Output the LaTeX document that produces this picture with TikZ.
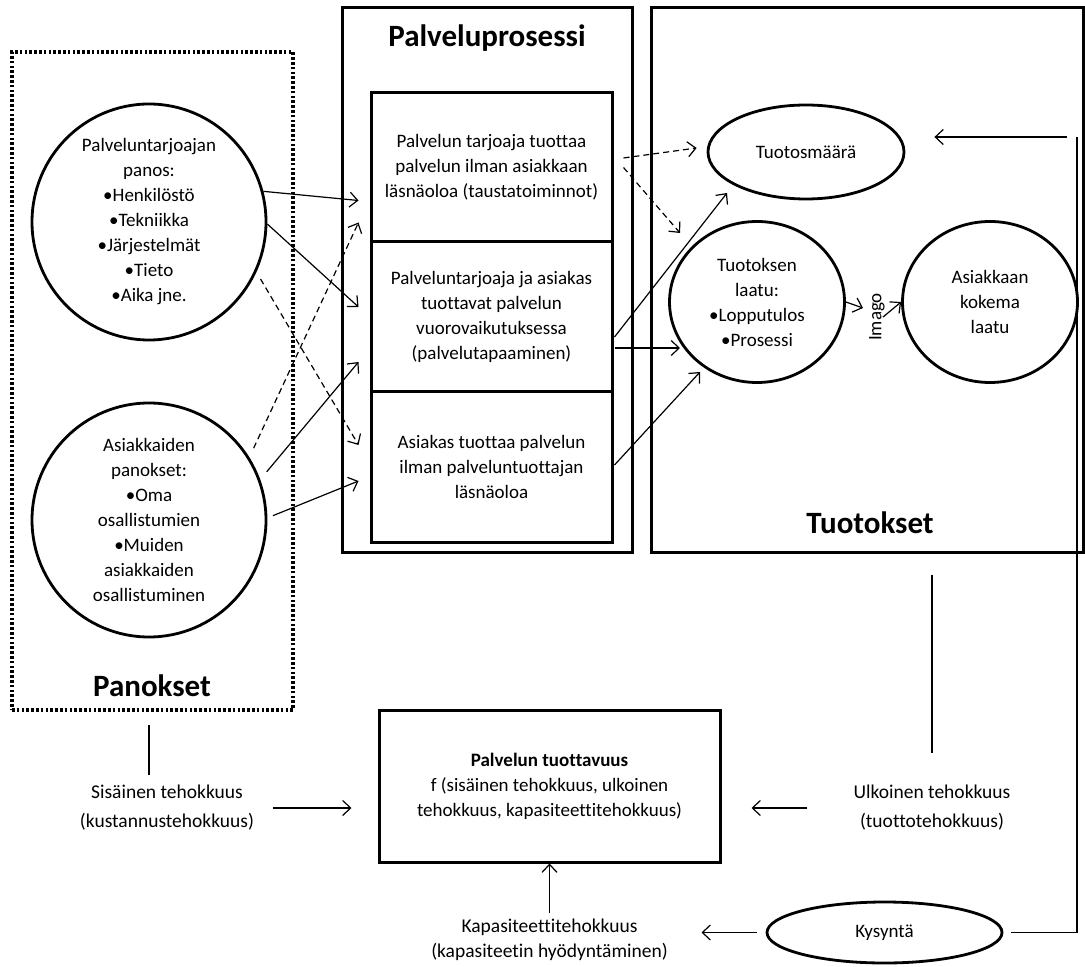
\documentclass[tikz,border=0pt]{standalone}
\usepackage{fontspec}
\setmainfont{Carlito}[Ligatures={NoCommon}]
\usepackage{tikz}
\usetikzlibrary{arrows.meta,shapes.geometric}
\tikzset{
kuvabox/.style={draw, line width=1.5pt, inner sep=0pt, align=center},
kuvapanos/.style={draw, line width=1.9pt, dash pattern=on 1.3pt off 1.1pt, inner sep=0pt},
kuvaellipse/.style={draw, ellipse, line width=1.4pt, inner sep=0pt, align=center},
kuvaotsikko/.style={font=\fontsize{15.5}{18}\selectfont\bfseries, inner sep=1pt},
kuvateksti/.style={align=center, font=\fontsize{9.75}{14.5}\selectfont, inner sep=2pt},
kuvaarrow/.style={-{Straight Barb[length=4pt,width=7.5pt]}, line width=0.6pt},
kuvadash/.style={kuvaarrow, dash pattern=on 3pt off 2pt},
kuvaline/.style={line width=0.6pt}
}

\begin{document}
\begin{tikzpicture}[x=0.5pt, y=-0.5pt, font=\fontsize{9.5}{12.5}\selectfont]
  \useasboundingbox (0,0) rectangle (1085,967);
  \node[kuvapanos, minimum width=140.5pt, minimum height=329pt] (panokset) at (152.5,381) {};
  \node[kuvaotsikko] (panoksetotsikko) at (152,686) {Panokset};
  \node[kuvaellipse, minimum width=117pt, minimum height=118pt] (tarjoajapanos) at (149,222) {Palveluntarjoajan\\panos:\\•Henkilöstö\\•Tekniikka\\•Järjestelmät\\•Tieto\\•Aika jne.};
  \node[kuvaellipse, minimum width=117pt, minimum height=117pt] (asiakaspanos) at (149,520) {Asiakkaiden\\panokset:\\•Oma\\osallistumien\\•Muiden\\asiakkaiden\\osallistuminen};
  \node[kuvabox, minimum width=145pt, minimum height=272pt] (prosessi) at (487,280) {};
  \node[kuvaotsikko] (prosessiotsikko) at (487,38) {Palveluprosessi};
  \node[kuvabox, minimum width=120.5pt, minimum height=74.5pt] (taustatoiminnot) at (491.5,167.5) {Palvelun tarjoaja tuottaa\\palvelun ilman asiakkaan\\läsnäoloa (taustatoiminnot)};
  \node[kuvabox, minimum width=120.5pt, minimum height=75pt] (palvelutapaaminen) at (491.5,317) {Palveluntarjoaja ja asiakas\\tuottavat palvelun\\vuorovaikutuksessa\\(palvelutapaaminen)};
  \node[kuvabox, minimum width=120.5pt, minimum height=75pt] (itsepalvelu) at (491.5,467) {Asiakas tuottaa palvelun\\ilman palveluntuottajan\\läsnäoloa};
  \node[kuvabox, minimum width=216pt, minimum height=272pt] (tuotokset) at (867,280) {};
  \node[kuvaotsikko] (tuotoksetotsikko) at (870,523) {Tuotokset};
  \node[kuvaellipse, minimum width=98pt, minimum height=47pt] (tuotosmaara) at (806,152) {Tuotosmäärä};
  \node[kuvaellipse, minimum width=87.5pt, minimum height=80.5pt] (laatu) at (757,302) {Tuotoksen\\laatu:\\•Lopputulos\\•Prosessi};
  \node[kuvaellipse, minimum width=87.5pt, minimum height=80.5pt] (kokema) at (990,302) {Asiakkaan\\kokema\\laatu};
  \node[rotate=90, inner sep=1pt] (imago) at (877,317) {Imago};
  \node[kuvabox, minimum width=170.5pt, minimum height=76pt] (tuottavuus) at (549.5,786) {\textbf{Palvelun tuottavuus}\\f (sisäinen tehokkuus, ulkoinen\\tehokkuus, kapasiteettitehokkuus)};
  \node[kuvateksti] (sisainen) at (167,808) {Sisäinen tehokkuus\\(kustannustehokkuus)};
  \node[kuvateksti] (ulkoinen) at (932,808) {Ulkoinen tehokkuus\\(tuottotehokkuus)};
  \node[kuvateksti, font=\fontsize{9.75}{12.5}\selectfont] (kapasiteetti) at (549.5,940) {Kapasiteettitehokkuus\\(kapasiteetin hyödyntäminen)};
  \node[kuvaellipse, minimum width=117.5pt, minimum height=30.5pt] (kysynta) at (884.5,932.5) {Kysyntä};
  \coordinate (palaute) at (1077,137);
  \draw[kuvaarrow] (tarjoajapanos.15) -- ([shift={(-11,33)}]taustatoiminnot.west);
  \draw[kuvaarrow] (tarjoajapanos.-1) -- ([shift={(-11,-10)}]palvelutapaaminen.west);
  \draw[kuvadash, shorten <=4pt] (tarjoajapanos.-25) -- ([shift={(-11,-22)}]itsepalvelu.west);
  \draw[kuvadash, shorten <=5pt] (asiakaspanos.32) -- ([shift={(-11,55)}]taustatoiminnot.west);
  \draw[kuvaarrow, shorten <=5pt] (asiakaspanos.20) -- ([shift={(-11,45)}]palvelutapaaminen.west);
  \draw[kuvaarrow, shorten <=3pt] (asiakaspanos.1) -- ([shift={(-11,14)}]itsepalvelu.west);
  \draw[kuvadash] ([shift={(10,-9.5)}]taustatoiminnot.east) -- ([shift={(-10,-4)}]tuotosmaara.west);
  \draw[kuvadash] ([shift={(10,0)}]taustatoiminnot.east) -- ([shift={(-77,-69)}]laatu.center);
  \draw[kuvaarrow] ([shift={(1,20)}]palvelutapaaminen.east) -- ([shift={(-79,41)}]tuotosmaara.center);
  \draw[kuvaarrow] ([shift={(1,31)}]palvelutapaaminen.east) -- ([shift={(-77,46)}]laatu.center);
  \draw[kuvaarrow] ([shift={(1,-2)}]itsepalvelu.east) -- ([shift={(-57,70)}]laatu.center);
  \draw[kuvaarrow] (laatu.east) -- ([shift={(-14,-9)}]imago.center);
  \draw[kuvaarrow] ([shift={(6,0)}]imago.center) -- (kokema.west);
  \draw[kuvaline, shorten <=4pt] (kysynta.east) -| (palaute);
  \draw[kuvaarrow] ([xshift=-5pt]palaute) -- ([xshift=14.5pt]palaute -| tuotosmaara.east);
  \draw[kuvaline] ([shift={(-3.5,13)}]panokset.south) -- ([shift={(-18,-33)}]sisainen.center);
  \draw[kuvaline] ([shift={(0,21)}]ulkoinen.center |- tuotokset.south) -- ([shift={(0,-55)}]ulkoinen.center);
  \draw[kuvaarrow] ([shift={(106,0)}]sisainen.center) -- ([shift={(-26,0)}]sisainen.center -| tuottavuus.west);
  \draw[kuvaarrow] ([shift={(-125,0)}]ulkoinen.center) -- ([shift={(30,0)}]ulkoinen.center -| tuottavuus.east);
  \draw[kuvaarrow] ([shift={(0,-27)}]kapasiteetti.center) -- (tuottavuus.south);
  \draw[kuvaarrow] ([xshift=-4.5pt]kysynta.west) -- ([shift={(152,0)}]kapasiteetti.center |- kysynta.west);
\end{tikzpicture}
\end{document}
